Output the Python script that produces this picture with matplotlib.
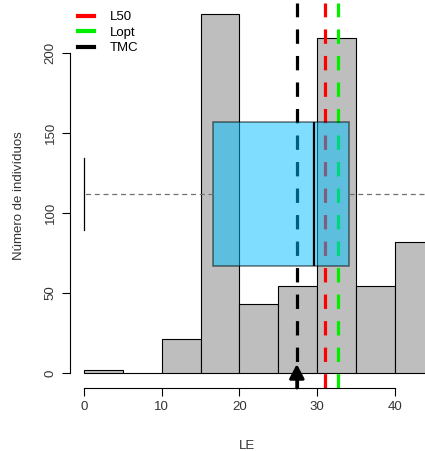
import numpy as np
import matplotlib.pyplot as plt
from matplotlib.lines import Line2D

plt.rcParams['font.family'] = ['Liberation Sans', 'DejaVu Sans']

# histograma de LE
bin_edges = [0, 5, 10, 15, 20, 25, 30, 35, 40, 45]
counts = [2, 0, 21, 224, 43, 54, 209, 54, 82]

# boxplot horizontal (estatisticas)
box_q1 = 16.6
box_med = 29.6
box_q3 = 34.1
box_lo = 0
box_hi = 60
box_pos = 112
box_width = 90

# linhas de referencia
ref_labels = ['L50', 'Lopt', 'TMC']
ref_values = [31.0, 32.7, 27.4]
ref_colors = ['#ff0000', '#00ee00', 'black']

fig = plt.figure(figsize=(4.25, 4.51), dpi=100)
ax = fig.add_axes([70 / 425, 63 / 451, 355 / 425, 385 / 451])

lefts = np.array(bin_edges[:-1])
ax.bar(lefts, counts, width=np.diff(bin_edges), align='edge',
       color='#bebebe', edgecolor='black', linewidth=0.8, zorder=1)

for val, col in zip(ref_values, ref_colors):
    ax.axvline(val, color=col, lw=2.3, dashes=(4.5, 3.8), zorder=2)

stats = [dict(med=box_med, q1=box_q1, q3=box_q3, whislo=box_lo, whishi=box_hi, fliers=[])]
ax.bxp(stats, positions=[box_pos], widths=box_width, vert=False,
       patch_artist=True, showfliers=False, manage_ticks=False,
       boxprops=dict(facecolor='#00bfff', alpha=0.5, edgecolor='black', linewidth=1.2),
       medianprops=dict(color='black', linewidth=1.6),
       whiskerprops=dict(color='#707070', linestyle=(0, (4, 3)), linewidth=0.9),
       capprops=dict(color='black', linewidth=0.9),
       zorder=3)

# seta no TMC
ax.annotate('', xy=(ref_values[2], 5.5), xytext=(ref_values[2], -9.4),
            arrowprops=dict(arrowstyle='-|>,head_length=0.85,head_width=0.45',
                            color='black', lw=2.2, mutation_scale=10,
                            shrinkA=0, shrinkB=0),
            zorder=4, annotation_clip=False)

ax.set_xlim(-1.8, 43.9)
ax.set_ylim(-9.4, 231)

ax.spines['top'].set_visible(False)
ax.spines['right'].set_visible(False)
ax.spines['left'].set_bounds(0, 200)
ax.spines['bottom'].set_bounds(0, 40)
ax.set_xticks([0, 10, 20, 30, 40])
ax.set_yticks([0, 50, 100, 150, 200])
ax.tick_params(labelsize=9.5, length=6, color='black', colors='#333333')
for lab in ax.get_yticklabels():
    lab.set_rotation(90)
    lab.set_va('center')
ax.set_xlabel('LE', fontsize=9.5, color='#333333', labelpad=19)
ax.set_ylabel('Número de indivíduos', fontsize=9.5, color='#333333', labelpad=14)

handles = [Line2D([0], [0], color=c, lw=3) for c in ref_colors]
ax.legend(handles, ref_labels, loc='upper left', bbox_to_anchor=(0.0, 1.0),
          frameon=False, fontsize=9.5, handlelength=1.2, handletextpad=1.2,
          labelspacing=0.25, borderaxespad=0.2)

fig.savefig('out.png', dpi=100)
